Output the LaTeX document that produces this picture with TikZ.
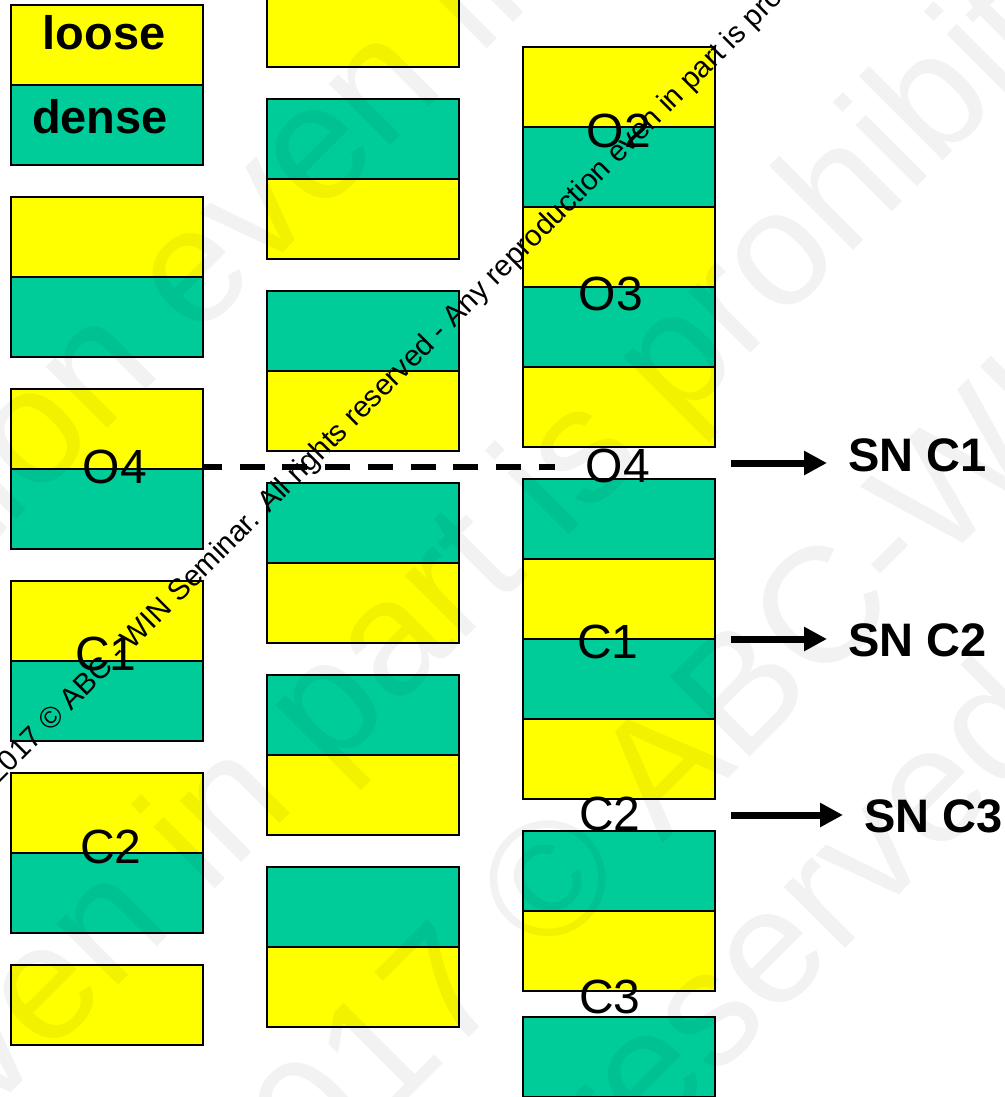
\documentclass[tikz,border=0pt]{standalone}
\usepackage{fontspec}
\setmainfont{Liberation Sans}
\usetikzlibrary{arrows.meta}
\definecolor{ylw}{HTML}{FFFF00}
\definecolor{tel}{HTML}{00CC99}
\tikzset{
 band/.style={draw=black, line width=2pt, minimum width=192pt, minimum height=80pt, inner sep=0pt, outer sep=0pt, anchor=north west},
 yb/.style={band, fill=ylw},
 tb/.style={band, fill=tel},
 lab/.style={anchor=base, inner sep=0pt, font=\fontsize{48}{50}\selectfont},
 blab/.style={anchor=base, inner sep=0pt, font=\fontsize{47}{50}\selectfont\bfseries},
 snlab/.style={anchor=base west, inner sep=0pt, font=\fontsize{47}{50}\selectfont\bfseries},
 arr/.style={line width=7pt, -{Triangle[length=23pt,width=23pt]}},
 dashline/.style={line width=6.5pt, dash pattern=on 25pt off 17.7pt, dash phase=6pt},
 wm/.style={anchor=base west, inner sep=0pt, rotate=45, font=\fontsize{29.5}{32}\selectfont},
 bigwm/.style={anchor=base west, inner sep=0pt, rotate=45, text=black, text opacity=0.05, font=\fontsize{164}{170}\selectfont}
}
\begin{document}
\begin{tikzpicture}[x=1pt,y=-1pt]
\useasboundingbox (0,0) rectangle (1004,1097);
\clip (0,0) rectangle (1004,1097);
% column 1
\node[yb] (c1y1) at (11,5) {};
\node[tb] (c1t1) at (11,85) {};
\node[yb] (c1y2) at (11,197) {};
\node[tb] (c1t2) at (11,277) {};
\node[yb] (c1y3) at (11,389) {};
\node[tb] (c1t3) at (11,469) {};
\node[yb] (c1y4) at (11,581) {};
\node[tb] (c1t4) at (11,661) {};
\node[yb] (c1y5) at (11,773) {};
\node[tb] (c1t5) at (11,853) {};
\node[yb] (c1y6) at (11,965) {};
% column 2
\node[yb] (c2y1) at (267,-13) {};
\node[tb] (c2t1) at (267,99) {};
\node[yb] (c2y2) at (267,179) {};
\node[tb] (c2t2) at (267,291) {};
\node[yb] (c2y3) at (267,371) {};
\node[tb] (c2t3) at (267,483) {};
\node[yb] (c2y4) at (267,563) {};
\node[tb] (c2t4) at (267,675) {};
\node[yb] (c2y5) at (267,755) {};
\node[tb] (c2t5) at (267,867) {};
\node[yb] (c2y6) at (267,947) {};
% column 3
\node[yb] (c3y1) at (523,47) {};
\node[tb] (c3t1) at (523,127) {};
\node[yb] (c3y2) at (523,207) {};
\node[tb] (c3t2) at (523,287) {};
\node[yb] (c3y3) at (523,367) {};
\node[tb] (c3t3) at (523,479) {};
\node[yb] (c3y4) at (523,559) {};
\node[tb] (c3t4) at (523,639) {};
\node[yb] (c3y5) at (523,719) {};
\node[tb] (c3t5) at (523,831) {};
\node[yb] (c3y6) at (523,911) {};
\node[tb] (c3t6) at (523,1017) {};
% faint background watermark
\node[bigwm] (bwa) at (-481,1017) {reproduction even in part is prohibited};
\node[bigwm] (bwb) at (-753,1857) {reproduction even in part is prohibited};
\node[bigwm] (bwc) at (255,1252) {2017 © ABC-WIN Seminar};
\node[bigwm] (bwd) at (135,1659) {All rights reserved};
% legend words
\node[blab] (loose) at (104,50) {loose};
\node[blab] (dense) at (100,133) {dense};
% labels column 1
\node[lab] (l1o4) at (115,483) {O4};
\node[lab] (l1c1) at (106,670) {C1};
\node[lab] (l1c2) at (111,863) {C2};
% labels column 3
\node[lab] (l3o2) at (619,147) {O2};
\node[lab] (l3o3) at (611,310) {O3};
\node[lab] (l3o4) at (618,482) {O4};
\node[lab] (l3c1) at (608,658) {C1};
\node[lab] (l3c2) at (610,830) {C2};
\node[lab] (l3c3) at (610,1013) {C3};
% dashed link
\coordinate (dstart) at (203,467);
\coordinate (dend) at (555,467);
\draw[dashline] (dstart) -- (dend);
% right labels and arrows
\node[snlab] (sn1) at (848,471) {SN C1};
\node[snlab] (sn2) at (848,656) {SN C2};
\node[snlab] (sn3) at (864,832) {SN C3};
\coordinate (a1) at (731,463);
\coordinate (a2) at (731,639);
\coordinate (a3) at (731,815);
\draw[arr, shorten >=21pt] (a1) -- (a1 -| sn1.west);
\draw[arr, shorten >=21pt] (a2) -- (a2 -| sn2.west);
\draw[arr, shorten >=21pt] (a3) -- (a3 -| sn3.west);
% copyright line
\node[wm] (wmk) at (-2,785) {2017 © ABC - WIN Seminar. All rights reserved - Any reproduction even in part is prohibited};
\end{tikzpicture}
\end{document}
